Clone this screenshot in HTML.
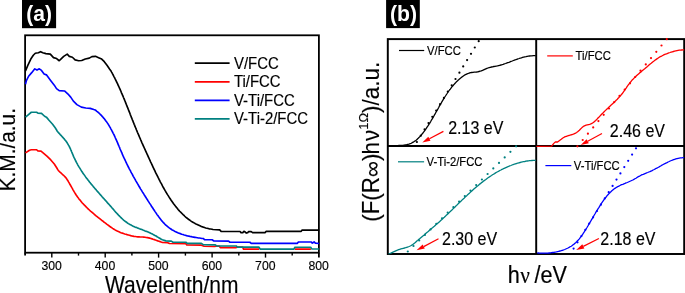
<!DOCTYPE html>
<html lang="en"><head><meta charset="utf-8"><title>UV-vis DRS spectra and band gap plots</title>
<style>html,body{margin:0;padding:0;background:#fff;}body{width:685px;height:293px;overflow:hidden;}svg{display:block;}text{font-family:"Liberation Sans",Arial,Helvetica,sans-serif;fill:#000;}</style>
</head><body>
<svg width="685" height="293" viewBox="0 0 685 293">
<rect x="0" y="0" width="685" height="293" fill="#fff"/>
<rect x="22" y="0" width="34.1" height="28.2" fill="#000"/>
<text transform="translate(39.1,20.9) scale(0.955,1)" font-size="22" text-anchor="middle" font-weight="bold" style="fill:#fff">(a)</text>
<rect x="25.1" y="35.3" width="293.79999999999995" height="217.39999999999998" fill="none" stroke="#000" stroke-width="1.8"/>
<g fill="none" stroke-width="1.65" stroke-linejoin="round" transform="translate(0.3,0.25)">
<path d="M25.2,152.6L29.2,150.0L31.0,149.5L36.3,149.5L37.6,150.7L40.7,150.9L43.4,153.1L46.9,156.2L50.5,159.7L54.0,163.7L56.7,168.0L57.3,169.1L58.0,170.1L58.8,171.0L59.7,171.9L60.6,172.7L61.5,173.5L62.4,174.4L63.3,175.2L64.2,176.0L65.0,176.9L65.8,177.8L66.5,178.8L67.1,179.8L67.8,180.8L68.4,181.9L69.0,182.9L69.6,184.0L70.2,185.0L70.8,186.1L71.4,187.2L72.0,188.2L72.6,189.3L73.2,190.3L73.8,191.4L74.4,192.4L75.1,193.5L75.7,194.5L76.4,195.5L77.1,196.5L77.8,197.4L78.5,198.4L79.3,199.4L80.1,200.3L80.8,201.2L81.6,202.2L82.4,203.1L83.3,204.0L84.1,204.9L84.9,205.7L85.8,206.6L86.7,207.5L87.5,208.3L88.4,209.2L89.3,210.0L90.2,210.8L91.2,211.6L92.1,212.4L93.0,213.2L93.9,214.0L94.9,214.8L95.8,215.6L96.8,216.4L97.7,217.1L98.7,217.9L99.7,218.7L100.6,219.4L101.6,220.2L102.6,220.9L103.5,221.7L104.5,222.4L105.5,223.1L106.4,223.9L107.4,224.6L108.4,225.3L109.3,226.0L110.3,226.7L111.3,227.4L112.3,228.1L113.3,228.7L114.3,229.4L115.4,230.0L116.4,230.5L117.5,231.1L118.6,231.6L119.7,232.1L120.8,232.5L122.0,232.9L123.2,233.3L124.4,233.7L125.6,234.0L126.8,234.4L128.0,234.7L129.2,235.0L130.4,235.4L131.5,235.7L132.7,235.9L133.9,236.2L135.1,236.3L136.3,236.5L137.5,236.6L138.7,236.6L139.9,236.7L141.1,236.7L142.3,236.8L143.5,236.9L144.7,237.0L145.9,237.2L147.1,237.4L148.3,237.6L149.4,237.9L150.6,238.2L151.8,238.6L152.9,239.0L154.1,239.4L155.2,239.8L156.4,240.2L157.5,240.6L158.7,241.0L159.8,241.4L160.9,241.8L162.1,242.2L167.4,242.4L169.2,243.3L185.6,243.5L186.5,244.7L201.1,244.9L203.8,246.0L214.0,246.2L216.0,245.9L219.0,245.9L220.0,247.3L235.9,247.3L237.0,246.9L242.4,246.9L243.2,248.9L258.8,248.9M294.4,248.9L310.6,248.9" stroke="#ff0000"/>
<path d="M25.2,116.9L27.9,114.6L31.0,112.0L36.3,112.0L37.6,112.9L41.2,113.1L44.3,116.0L46.1,116.9L48.7,120.0L52.3,124.0L54.9,127.5L56.3,129.7L56.8,130.8L57.6,131.7L58.4,132.6L59.2,133.5L60.0,134.4L60.9,135.3L61.7,136.2L62.5,137.1L63.3,138.0L64.1,138.9L64.9,139.9L65.6,140.8L66.3,141.8L67.0,142.8L67.6,143.8L68.2,144.9L68.8,145.9L69.3,147.0L69.9,148.1L70.4,149.3L70.9,150.4L71.3,151.5L71.8,152.7L72.3,153.8L72.8,155.0L73.2,156.1L73.7,157.2L74.3,158.3L74.8,159.4L75.3,160.5L75.9,161.6L76.4,162.7L77.0,163.7L77.6,164.8L78.2,165.8L78.8,166.9L79.5,167.9L80.1,168.9L80.7,169.9L81.4,171.0L82.1,172.0L82.7,173.0L83.4,173.9L84.1,174.9L84.8,175.9L85.5,176.9L86.3,177.9L87.0,178.8L87.7,179.8L88.5,180.7L89.2,181.7L90.0,182.6L90.7,183.6L91.5,184.5L92.3,185.4L93.0,186.4L93.8,187.3L94.6,188.2L95.4,189.1L96.2,190.1L97.0,191.0L97.8,191.9L98.6,192.8L99.4,193.7L100.2,194.6L101.0,195.5L101.8,196.5L102.6,197.4L103.5,198.3L104.3,199.2L105.1,200.1L105.9,201.0L106.7,201.9L107.5,202.9L108.4,203.8L109.2,204.7L110.0,205.6L110.8,206.5L111.6,207.5L112.4,208.4L113.2,209.3L114.0,210.3L114.8,211.2L115.6,212.1L116.5,213.0L117.3,213.9L118.1,214.8L119.0,215.7L119.8,216.5L120.7,217.4L121.5,218.2L122.4,219.0L123.3,219.8L124.3,220.6L125.2,221.3L126.2,222.0L127.1,222.7L128.1,223.4L129.2,224.0L130.2,224.6L131.3,225.1L132.4,225.7L133.5,226.2L134.6,226.7L135.7,227.1L136.9,227.6L138.0,228.0L139.2,228.5L140.3,228.9L141.5,229.3L142.6,229.8L143.8,230.2L144.9,230.7L146.0,231.1L147.2,231.6L148.3,232.1L149.4,232.6L150.4,233.1L151.5,233.6L152.6,234.1L153.7,234.7L154.7,235.3L155.8,235.8L156.8,236.5L157.9,237.1L158.9,237.7L159.9,238.3L161.0,239.0L162.1,239.5L165.6,240.6L171.0,240.9L172.7,242.0L185.6,242.0L186.9,243.1L201.1,243.1L202.9,244.4L215.0,244.6L216.3,245.7L235.9,245.7L237.2,246.8L258.5,246.8L259.8,248.8L293.6,248.8L294.6,247.0L310.4,247.0L311.4,248.7L318.9,248.7" stroke="#008080"/>
<path d="M25.2,84.0L26.1,80.4L28.3,76.0L31.4,72.4L34.5,68.6L36.7,69.8L39.0,68.6L41.2,70.2L43.8,73.8L46.1,74.6L50.5,80.4L54.0,84.9L56.2,88.4L58.9,90.4L64.2,90.7L67.7,93.8L70.4,96.9L73.1,100.9L76.6,104.4L81.1,106.9L85.5,107.8L89.9,108.1L93.5,109.3L94.7,109.6L95.7,110.3L96.6,111.1L97.6,111.9L98.5,112.7L99.4,113.5L100.2,114.3L101.1,115.2L101.9,116.1L102.7,117.0L103.4,117.9L104.2,118.8L104.9,119.7L105.6,120.7L106.3,121.6L107.0,122.6L107.7,123.6L108.3,124.6L108.9,125.6L109.5,126.7L110.1,127.7L110.7,128.8L111.3,129.8L111.8,130.9L112.4,132.0L112.9,133.1L113.5,134.1L114.0,135.2L114.5,136.3L115.0,137.5L115.5,138.6L116.0,139.7L116.5,140.8L117.0,141.9L117.5,143.1L117.9,144.2L118.4,145.3L118.9,146.5L119.4,147.6L119.8,148.7L120.3,149.9L120.8,151.0L121.3,152.1L121.8,153.2L122.2,154.4L122.7,155.5L123.2,156.6L123.7,157.7L124.3,158.8L124.8,159.9L125.3,161.0L125.8,162.1L126.3,163.2L126.9,164.3L127.4,165.4L127.9,166.5L128.5,167.5L129.0,168.6L129.6,169.7L130.2,170.7L130.7,171.8L131.3,172.9L131.9,173.9L132.4,175.0L133.0,176.1L133.6,177.1L134.2,178.2L134.8,179.2L135.4,180.3L136.0,181.3L136.6,182.3L137.2,183.4L137.8,184.4L138.4,185.5L139.0,186.5L139.6,187.5L140.2,188.6L140.9,189.6L141.5,190.6L142.1,191.6L142.8,192.7L143.4,193.7L144.0,194.7L144.7,195.7L145.3,196.8L146.0,197.8L146.6,198.8L147.3,199.8L147.9,200.9L148.6,201.9L149.2,202.9L149.9,203.9L150.6,204.9L151.2,206.0L151.9,207.0L152.6,208.0L153.2,209.0L153.9,210.0L154.6,211.1L155.3,212.1L156.0,213.1L156.6,214.1L157.3,215.1L158.1,216.1L158.8,217.1L159.5,218.0L160.3,219.0L161.0,219.9L161.8,220.9L162.6,221.8L163.4,222.6L164.2,223.5L165.0,224.3L165.9,225.2L166.8,225.9L167.7,226.7L168.6,227.4L169.6,228.1L170.6,228.8L171.6,229.5L172.6,230.1L173.7,230.6L174.8,231.2L175.9,231.7L177.0,232.2L178.1,232.7L179.2,233.1L180.4,233.6L181.5,234.0L182.7,234.3L183.9,234.7L185.0,235.0L186.2,235.4L187.4,235.7L188.6,235.9L189.8,236.2L191.0,236.4L192.2,236.7L193.4,236.9L194.6,237.1L195.8,237.3L197.0,237.5L198.2,237.7L199.4,237.8L200.5,238.0L201.7,238.2L202.9,238.2L204.2,239.4L211.8,239.5L213.6,240.7L228.3,240.9L229.6,242.0L249.6,242.0L250.9,243.1L296.9,243.1L298.3,241.7L311.1,241.7L312.0,242.9L313.8,241.7L315.1,242.9L318.9,243.3" stroke="#0000ff"/>
<path d="M25.2,70.7L27.4,65.4L30.5,58.8L33.0,55.0L35.0,53.0L38.1,52.5L40.3,51.4L42.5,52.5L45.6,53.4L50.0,53.9L53.2,57.4L56.3,58.3L58.9,60.5L61.1,58.3L63.4,56.1L66.9,53.9L69.0,56.1L72.1,57.0L74.8,59.6L78.3,60.5L81.4,60.3L85.0,58.8L89.0,57.9L91.6,56.4L95.2,56.1L98.3,57.4L101.4,58.8L104.0,61.4L106.7,65.0L109.4,69.0L110.7,70.7L111.3,71.8L111.9,72.8L112.4,73.9L113.0,75.0L113.5,76.1L114.1,77.1L114.6,78.2L115.2,79.3L115.7,80.4L116.2,81.5L116.8,82.6L117.3,83.7L117.8,84.8L118.3,85.9L118.8,87.0L119.3,88.1L119.8,89.2L120.3,90.3L120.8,91.5L121.2,92.6L121.7,93.7L122.2,94.8L122.7,95.9L123.1,97.0L123.6,98.2L124.1,99.3L124.5,100.4L125.0,101.5L125.4,102.7L125.9,103.8L126.3,104.9L126.8,106.1L127.2,107.2L127.7,108.3L128.1,109.4L128.6,110.6L129.0,111.7L129.5,112.8L129.9,114.0L130.3,115.1L130.8,116.2L131.2,117.4L131.7,118.5L132.1,119.6L132.6,120.7L133.0,121.9L133.5,123.0L133.9,124.1L134.4,125.2L134.8,126.4L135.3,127.5L135.8,128.6L136.2,129.7L136.7,130.9L137.1,132.0L137.6,133.1L138.1,134.2L138.6,135.3L139.0,136.4L139.5,137.5L140.0,138.6L140.5,139.8L141.0,140.9L141.4,142.0L141.9,143.1L142.4,144.2L142.9,145.3L143.4,146.4L143.9,147.5L144.4,148.6L144.9,149.7L145.4,150.8L145.9,151.9L146.4,153.0L146.9,154.1L147.4,155.2L147.9,156.3L148.4,157.4L148.9,158.5L149.4,159.6L149.9,160.7L150.4,161.8L151.0,163.0L151.5,164.1L152.0,165.2L152.5,166.3L153.0,167.4L153.5,168.5L154.1,169.6L154.6,170.7L155.1,171.8L155.6,172.9L156.2,174.0L156.7,175.0L157.3,176.1L157.8,177.2L158.4,178.3L158.9,179.4L159.5,180.5L160.0,181.6L160.6,182.7L161.2,183.7L161.8,184.8L162.3,185.9L162.9,187.0L163.5,188.0L164.1,189.1L164.7,190.2L165.3,191.2L166.0,192.3L166.6,193.3L167.2,194.4L167.9,195.4L168.5,196.4L169.2,197.5L169.9,198.5L170.5,199.5L171.2,200.5L171.9,201.5L172.6,202.5L173.3,203.5L174.1,204.5L174.8,205.4L175.5,206.4L176.3,207.3L177.1,208.3L177.8,209.2L178.6,210.1L179.4,211.0L180.3,211.8L181.1,212.7L181.9,213.5L182.8,214.4L183.7,215.2L184.5,216.0L185.4,216.8L186.3,217.5L187.3,218.3L188.2,219.0L189.2,219.7L190.1,220.4L191.1,221.1L192.1,221.7L193.1,222.3L194.2,222.9L195.2,223.5L196.3,224.1L197.4,224.6L198.5,225.1L199.6,225.6L200.7,226.1L201.9,226.5L203.0,226.9L204.2,227.3L205.4,227.7L206.7,228.0L207.9,228.3L209.1,228.6L210.4,228.8L211.7,229.0L212.7,229.3L219.4,229.6L220.8,231.1L239.8,231.3L240.7,232.4L242.5,232.4L243.6,231.0L245.2,232.0L246.0,232.8L247.4,232.4L248.3,231.3L250.9,231.3L252.3,232.4L264.7,232.4L265.9,231.1L300.9,231.1L301.8,229.8L318.9,229.8" stroke="#000"/>
</g>
<line x1="25.1" y1="252.7" x2="25.1" y2="255.6" stroke="#000" stroke-width="1.8"/>
<line x1="51.8" y1="252.7" x2="51.8" y2="257.59999999999997" stroke="#000" stroke-width="1.4"/>
<text transform="translate(51.6,269.6) scale(0.965,1)" font-size="12.7" text-anchor="middle" stroke="#000" stroke-width="0.15" stroke-linejoin="round">300</text>
<line x1="78.5" y1="252.7" x2="78.5" y2="255.6" stroke="#000" stroke-width="1.4"/>
<line x1="105.2" y1="252.7" x2="105.2" y2="257.59999999999997" stroke="#000" stroke-width="1.4"/>
<text transform="translate(105.0,269.6) scale(0.965,1)" font-size="12.7" text-anchor="middle" stroke="#000" stroke-width="0.15" stroke-linejoin="round">400</text>
<line x1="131.9" y1="252.7" x2="131.9" y2="255.6" stroke="#000" stroke-width="1.4"/>
<line x1="158.6" y1="252.7" x2="158.6" y2="257.59999999999997" stroke="#000" stroke-width="1.4"/>
<text transform="translate(158.4,269.6) scale(0.965,1)" font-size="12.7" text-anchor="middle" stroke="#000" stroke-width="0.15" stroke-linejoin="round">500</text>
<line x1="185.4" y1="252.7" x2="185.4" y2="255.6" stroke="#000" stroke-width="1.4"/>
<line x1="212.1" y1="252.7" x2="212.1" y2="257.59999999999997" stroke="#000" stroke-width="1.4"/>
<text transform="translate(211.9,269.6) scale(0.965,1)" font-size="12.7" text-anchor="middle" stroke="#000" stroke-width="0.15" stroke-linejoin="round">600</text>
<line x1="238.8" y1="252.7" x2="238.8" y2="255.6" stroke="#000" stroke-width="1.4"/>
<line x1="265.5" y1="252.7" x2="265.5" y2="257.59999999999997" stroke="#000" stroke-width="1.4"/>
<text transform="translate(265.3,269.6) scale(0.965,1)" font-size="12.7" text-anchor="middle" stroke="#000" stroke-width="0.15" stroke-linejoin="round">700</text>
<line x1="292.2" y1="252.7" x2="292.2" y2="255.6" stroke="#000" stroke-width="1.4"/>
<line x1="318.9" y1="252.7" x2="318.9" y2="257.59999999999997" stroke="#000" stroke-width="1.8"/>
<text transform="translate(318.7,269.6) scale(0.965,1)" font-size="12.7" text-anchor="middle" stroke="#000" stroke-width="0.15" stroke-linejoin="round">800</text>
<text transform="translate(171.8,293.3) scale(0.914,1)" font-size="23" text-anchor="middle" stroke="#000" stroke-width="0.15" stroke-linejoin="round">Wavelenth/nm</text>
<text transform="translate(15.1,191.4) rotate(-90) scale(0.948,1)" font-size="22" stroke="#000" stroke-width="0.15" stroke-linejoin="round">K.M./a.u.</text>
<line x1="194.8" y1="63.2" x2="229.6" y2="63.2" stroke="#000" stroke-width="1.7"/>
<text transform="translate(234,68.5) scale(0.91,1)" font-size="16.4" stroke="#000" stroke-width="0.18" stroke-linejoin="round">V/FCC</text>
<line x1="194.8" y1="81.9" x2="229.6" y2="81.9" stroke="#ff0000" stroke-width="1.7"/>
<text transform="translate(234,87.2) scale(0.91,1)" font-size="16.4" stroke="#000" stroke-width="0.18" stroke-linejoin="round">Ti/FCC</text>
<line x1="194.8" y1="100.4" x2="229.6" y2="100.4" stroke="#0000ff" stroke-width="1.7"/>
<text transform="translate(234,105.7) scale(0.91,1)" font-size="16.4" stroke="#000" stroke-width="0.18" stroke-linejoin="round">V-Ti/FCC</text>
<line x1="194.8" y1="118.8" x2="229.6" y2="118.8" stroke="#008080" stroke-width="1.7"/>
<text transform="translate(234,124.1) scale(0.91,1)" font-size="16.4" stroke="#000" stroke-width="0.18" stroke-linejoin="round">V-Ti-2/FCC</text>
<rect x="386.1" y="0" width="33.7" height="28.1" fill="#000"/>
<text transform="translate(403.5,20.9) scale(0.965,1)" font-size="22" text-anchor="middle" font-weight="bold" style="fill:#fff">(b)</text>
<g fill="none" stroke="#000" stroke-width="1.95">
<rect x="387.8" y="39.1" width="296.40000000000003" height="214.9"/>
<line x1="536.2" y1="39.1" x2="536.2" y2="254.0"/>
<line x1="387.8" y1="146.0" x2="684.2" y2="146.0"/>
</g>
<g fill="none" stroke-width="1.3" stroke-linejoin="round" transform="translate(0.2,0.3)">
<path d="M388.0,145.7L389.1,145.6L390.2,145.5L391.4,145.5L392.5,145.4L393.7,145.4L395.0,145.3L396.2,145.3L397.5,145.3L398.8,145.2L400.1,145.2L401.3,145.1L402.6,145.0L403.9,144.8L405.1,144.6L406.4,144.4L407.6,144.1L408.7,143.8L409.9,143.4L411.0,143.0L412.0,142.4L413.0,141.9L414.0,141.2L415.0,140.6L415.9,139.9L416.8,139.1L417.7,138.3L418.5,137.5L419.4,136.6L420.2,135.7L421.0,134.8L421.7,133.9L422.5,133.0L423.2,132.0L424.0,131.1L424.7,130.1L425.4,129.1L426.1,128.1L426.7,127.1L427.4,126.1L428.1,125.1L428.7,124.1L429.4,123.0L430.0,122.0L430.6,121.0L431.2,119.9L431.9,118.9L432.5,117.8L433.1,116.8L433.7,115.7L434.3,114.6L434.9,113.6L435.5,112.5L436.1,111.4L436.7,110.4L437.3,109.3L437.9,108.3L438.5,107.2L439.0,106.1L439.6,105.1L440.3,104.0L440.9,103.0L441.5,101.9L442.1,100.9L442.7,99.8L443.3,98.8L444.0,97.7L444.6,96.7L445.3,95.7L445.9,94.7L446.6,93.7L447.2,92.7L447.9,91.7L448.6,90.7L449.3,89.7L450.1,88.8L450.8,87.8L451.5,86.9L452.3,85.9L453.1,85.0L453.9,84.1L454.7,83.2L455.5,82.3L456.3,81.5L457.2,80.6L458.1,79.8L459.0,78.9L459.9,78.1L460.8,77.4L461.8,76.6L462.8,75.9L463.8,75.2L464.8,74.6L465.9,74.0L466.9,73.5L468.1,73.1L469.2,72.7L470.4,72.4L471.5,72.2L472.8,72.1L474.0,71.9L475.2,71.8L476.4,71.7L477.6,71.5L478.8,71.2L480.0,70.9L481.1,70.6L482.3,70.1L483.4,69.6L484.5,69.1L485.6,68.6L486.7,68.1L487.8,67.7L488.9,67.3L490.1,67.0L491.3,66.7L492.4,66.5L493.6,66.2L494.8,66.0L496.0,65.8L497.2,65.6L498.4,65.3L499.5,65.0L500.7,64.7L501.8,64.4L503.0,64.0L504.1,63.6L505.3,63.2L506.4,62.8L507.5,62.4L508.7,62.0L509.8,61.6L510.9,61.1L512.1,60.7L513.2,60.2L514.3,59.8L515.5,59.4L516.6,59.0L517.7,58.6L518.9,58.2L520.0,57.8L521.2,57.5L522.3,57.1L523.5,56.8L524.6,56.5L525.8,56.3L527.0,56.0L528.2,55.8L529.4,55.7L530.6,55.6L531.8,55.5L533.0,55.4L534.3,55.4L535.5,55.4" stroke="#000"/>
<path d="M536.2,146.0L551.5,145.8L553.4,143.3L555.2,141.6L557.4,141.7L561.0,139.0L562.0,138.2L563.0,137.5L564.0,136.9L565.1,136.4L566.2,136.0L567.4,135.6L568.6,135.2L569.7,134.9L570.9,134.5L572.1,134.2L573.2,133.8L574.3,133.3L575.4,132.8L576.4,132.2L577.4,131.5L578.3,130.7L579.2,129.9L580.1,129.0L581.0,128.1L581.8,127.3L582.8,126.5L583.7,125.8L584.8,125.3L585.9,124.9L587.1,124.6L588.3,124.3L589.5,124.0L590.6,123.6L591.7,123.1L592.7,122.5L593.7,121.8L594.6,121.0L595.5,120.2L596.3,119.3L597.2,118.4L598.0,117.5L598.9,116.7L599.7,115.8L600.5,114.9L601.4,114.0L602.2,113.2L603.1,112.3L603.9,111.5L604.8,110.6L605.6,109.8L606.5,108.9L607.4,108.1L608.2,107.3L609.1,106.4L610.0,105.6L610.9,104.8L611.8,103.9L612.7,103.1L613.6,102.3L614.5,101.5L615.3,100.6L616.2,99.8L617.1,98.9L617.9,98.0L618.7,97.2L619.5,96.3L620.3,95.3L621.1,94.4L621.9,93.5L622.6,92.5L623.3,91.5L624.0,90.5L624.7,89.5L625.4,88.5L626.1,87.5L626.7,86.5L627.4,85.5L628.1,84.6L628.9,83.6L629.6,82.6L630.4,81.7L631.1,80.8L631.9,79.8L632.8,79.0L633.6,78.1L634.5,77.2L635.3,76.4L636.2,75.5L637.1,74.7L638.0,73.9L638.9,73.1L639.8,72.3L640.8,71.6L641.7,70.8L642.6,70.0L643.6,69.2L644.5,68.5L645.4,67.7L646.3,66.9L647.3,66.1L648.2,65.3L649.1,64.5L650.0,63.7L651.0,63.0L651.9,62.2L652.8,61.4L653.8,60.7L654.7,60.0L655.7,59.3L656.7,58.6L657.7,57.9L658.7,57.2L659.7,56.6L660.8,56.0L661.9,55.5L663.0,54.9L664.1,54.4L665.2,53.9L666.3,53.5L667.5,53.0L668.6,52.6L669.8,52.2L670.9,51.8L672.1,51.5L673.2,51.2L674.4,50.9L675.6,50.6L676.8,50.3L677.9,50.1L679.1,49.9L680.3,49.8L681.5,49.7L682.8,49.6L684.0,49.6" stroke="#ff0000"/>
<path d="M388.3,253.6L389.5,253.2L390.6,252.8L391.7,252.3L392.8,251.8L393.9,251.3L395.0,250.8L396.1,250.3L397.2,249.9L398.4,249.4L399.5,249.0L400.7,248.6L401.9,248.3L403.1,248.0L404.3,247.7L405.4,247.4L406.6,247.0L407.8,246.6L408.9,246.2L410.0,245.7L411.0,245.2L412.0,244.6L412.9,243.9L413.9,243.1L414.8,242.4L415.7,241.6L416.6,240.8L417.5,240.1L418.4,239.3L419.4,238.5L420.3,237.7L421.2,236.9L422.1,236.1L423.0,235.4L424.0,234.6L424.9,233.8L425.8,233.0L426.7,232.2L427.7,231.4L428.6,230.6L429.5,229.8L430.4,229.0L431.3,228.2L432.3,227.4L433.2,226.6L434.1,225.9L435.0,225.1L435.9,224.3L436.9,223.5L437.8,222.7L438.7,221.9L439.6,221.1L440.5,220.3L441.4,219.5L442.3,218.6L443.2,217.8L444.1,217.0L444.9,216.2L445.8,215.3L446.7,214.5L447.6,213.7L448.5,212.8L449.3,212.0L450.2,211.1L451.1,210.3L452.0,209.4L452.8,208.6L453.7,207.7L454.6,206.9L455.4,206.0L456.3,205.2L457.2,204.3L458.0,203.5L458.9,202.6L459.8,201.8L460.7,200.9L461.5,200.1L462.4,199.2L463.3,198.4L464.2,197.6L465.0,196.7L465.9,195.9L466.8,195.1L467.7,194.2L468.6,193.4L469.5,192.6L470.4,191.7L471.3,190.9L472.2,190.1L473.1,189.3L474.0,188.5L474.9,187.7L475.8,186.9L476.7,186.1L477.7,185.4L478.6,184.6L479.5,183.8L480.5,183.1L481.4,182.3L482.4,181.6L483.3,180.8L484.3,180.1L485.3,179.4L486.3,178.6L487.2,177.9L488.2,177.2L489.2,176.6L490.2,175.9L491.3,175.2L492.3,174.5L493.3,173.9L494.3,173.3L495.4,172.6L496.4,172.0L497.5,171.4L498.6,170.8L499.6,170.2L500.7,169.7L501.8,169.1L502.9,168.6L504.0,168.0L505.1,167.5L506.2,167.0L507.3,166.5L508.4,166.1L509.5,165.6L510.7,165.2L511.8,164.7L512.9,164.3L514.1,163.9L515.2,163.5L516.4,163.2L517.5,162.8L518.7,162.5L519.9,162.2L521.1,161.9L522.2,161.6L523.4,161.4L524.6,161.2L525.8,160.9L527.0,160.7L528.2,160.6L529.4,160.4L530.6,160.3L531.8,160.2L533.1,160.1L534.3,160.0L535.5,160.0" stroke="#008080"/>
<path d="M537.0,252.6L538.1,252.7L539.3,252.8L540.4,252.8L541.6,252.9L542.8,252.9L544.0,252.9L545.2,252.9L546.4,252.8L547.6,252.8L548.9,252.7L550.1,252.6L551.3,252.4L552.6,252.2L553.8,252.1L555.0,251.8L556.2,251.6L557.4,251.3L558.6,251.0L559.8,250.7L561.0,250.4L562.2,250.0L563.4,249.6L564.5,249.2L565.6,248.7L566.7,248.2L567.8,247.7L568.9,247.1L569.9,246.5L571.0,245.9L572.0,245.2L572.9,244.5L573.9,243.8L574.8,243.0L575.7,242.2L576.5,241.4L577.3,240.5L578.1,239.7L578.9,238.8L579.7,237.8L580.4,236.9L581.2,235.9L581.9,234.9L582.6,233.9L583.2,232.9L583.9,231.9L584.5,230.9L585.2,229.8L585.8,228.8L586.5,227.7L587.1,226.7L587.7,225.7L588.3,224.6L588.9,223.6L589.5,222.5L590.1,221.5L590.8,220.4L591.4,219.4L592.0,218.4L592.6,217.3L593.2,216.3L593.8,215.2L594.4,214.2L595.0,213.2L595.6,212.1L596.2,211.1L596.9,210.1L597.5,209.0L598.1,208.0L598.8,207.0L599.4,206.0L600.1,204.9L600.7,203.9L601.4,202.9L602.1,201.9L602.8,200.9L603.5,199.9L604.2,198.9L604.9,197.9L605.7,197.0L606.4,196.0L607.2,195.1L608.0,194.2L608.8,193.3L609.7,192.4L610.5,191.6L611.4,190.8L612.3,190.0L613.2,189.2L614.1,188.5L615.1,187.8L616.1,187.2L617.1,186.6L618.2,186.0L619.2,185.5L620.3,184.9L621.4,184.4L622.6,184.0L623.7,183.5L624.8,183.1L625.9,182.6L627.1,182.2L628.2,181.7L629.3,181.2L630.4,180.7L631.5,180.2L632.6,179.7L633.7,179.1L634.7,178.5L635.8,177.9L636.8,177.2L637.8,176.6L638.8,176.0L639.9,175.5L640.9,174.9L642.0,174.4L643.1,174.0L644.2,173.5L645.3,173.1L646.4,172.6L647.5,172.2L648.6,171.7L649.7,171.3L650.8,170.8L651.9,170.3L652.9,169.7L654.0,169.2L655.1,168.6L656.1,168.0L657.2,167.5L658.3,166.9L659.3,166.3L660.4,165.7L661.4,165.1L662.5,164.5L663.6,163.9L664.6,163.4L665.7,162.8L666.8,162.3L667.9,161.7L669.0,161.2L670.0,160.7L671.2,160.2L672.3,159.8L673.4,159.4L674.5,159.0L675.6,158.6L676.8,158.3L678.0,158.0L679.1,157.8L680.3,157.6L681.5,157.5L682.8,157.4L684.0,157.4" stroke="#0000ff"/>
</g>
<circle cx="478.7" cy="41.2" r="1.1" fill="#000"/>
<circle cx="474.8" cy="47.5" r="1.1" fill="#000"/>
<circle cx="471.0" cy="53.8" r="1.1" fill="#000"/>
<circle cx="467.1" cy="60.1" r="1.1" fill="#000"/>
<circle cx="463.2" cy="66.4" r="1.1" fill="#000"/>
<circle cx="459.4" cy="72.7" r="1.1" fill="#000"/>
<circle cx="455.5" cy="79.0" r="1.1" fill="#000"/>
<circle cx="451.7" cy="85.3" r="1.1" fill="#000"/>
<circle cx="447.8" cy="91.6" r="1.1" fill="#000"/>
<circle cx="443.9" cy="97.9" r="1.1" fill="#000"/>
<circle cx="440.1" cy="104.2" r="1.1" fill="#000"/>
<circle cx="436.2" cy="110.5" r="1.1" fill="#000"/>
<circle cx="432.3" cy="116.8" r="1.1" fill="#000"/>
<circle cx="428.5" cy="123.1" r="1.1" fill="#000"/>
<circle cx="424.6" cy="129.4" r="1.1" fill="#000"/>
<circle cx="420.8" cy="135.7" r="1.1" fill="#000"/>
<circle cx="416.9" cy="142.0" r="1.1" fill="#000"/>
<circle cx="666.8" cy="39.2" r="1.1" fill="#ff0000"/>
<circle cx="661.5" cy="45.5" r="1.1" fill="#ff0000"/>
<circle cx="656.3" cy="51.8" r="1.1" fill="#ff0000"/>
<circle cx="651.0" cy="58.1" r="1.1" fill="#ff0000"/>
<circle cx="645.8" cy="64.4" r="1.1" fill="#ff0000"/>
<circle cx="640.5" cy="70.7" r="1.1" fill="#ff0000"/>
<circle cx="635.2" cy="77.0" r="1.1" fill="#ff0000"/>
<circle cx="630.0" cy="83.3" r="1.1" fill="#ff0000"/>
<circle cx="624.7" cy="89.6" r="1.1" fill="#ff0000"/>
<circle cx="619.5" cy="95.9" r="1.1" fill="#ff0000"/>
<circle cx="614.2" cy="102.2" r="1.1" fill="#ff0000"/>
<circle cx="609.0" cy="108.5" r="1.1" fill="#ff0000"/>
<circle cx="603.7" cy="114.8" r="1.1" fill="#ff0000"/>
<circle cx="598.4" cy="121.1" r="1.1" fill="#ff0000"/>
<circle cx="593.2" cy="127.4" r="1.1" fill="#ff0000"/>
<circle cx="587.9" cy="133.7" r="1.1" fill="#ff0000"/>
<circle cx="582.7" cy="140.0" r="1.1" fill="#ff0000"/>
<circle cx="577.4" cy="146.3" r="1.1" fill="#ff0000"/>
<circle cx="516.1" cy="146.3" r="1.1" fill="#008080"/>
<circle cx="510.4" cy="151.8" r="1.1" fill="#008080"/>
<circle cx="504.7" cy="157.4" r="1.1" fill="#008080"/>
<circle cx="499.0" cy="162.9" r="1.1" fill="#008080"/>
<circle cx="493.3" cy="168.4" r="1.1" fill="#008080"/>
<circle cx="487.6" cy="174.0" r="1.1" fill="#008080"/>
<circle cx="481.9" cy="179.5" r="1.1" fill="#008080"/>
<circle cx="476.2" cy="185.1" r="1.1" fill="#008080"/>
<circle cx="470.5" cy="190.6" r="1.1" fill="#008080"/>
<circle cx="464.8" cy="196.1" r="1.1" fill="#008080"/>
<circle cx="459.1" cy="201.7" r="1.1" fill="#008080"/>
<circle cx="453.4" cy="207.2" r="1.1" fill="#008080"/>
<circle cx="447.7" cy="212.7" r="1.1" fill="#008080"/>
<circle cx="442.0" cy="218.3" r="1.1" fill="#008080"/>
<circle cx="436.3" cy="223.8" r="1.1" fill="#008080"/>
<circle cx="430.6" cy="229.4" r="1.1" fill="#008080"/>
<circle cx="424.9" cy="234.9" r="1.1" fill="#008080"/>
<circle cx="419.2" cy="240.4" r="1.1" fill="#008080"/>
<circle cx="413.5" cy="246.0" r="1.1" fill="#008080"/>
<circle cx="407.8" cy="251.5" r="1.1" fill="#008080"/>
<circle cx="636.0" cy="148.3" r="1.1" fill="#0000ff"/>
<circle cx="632.1" cy="154.6" r="1.1" fill="#0000ff"/>
<circle cx="628.2" cy="160.8" r="1.1" fill="#0000ff"/>
<circle cx="624.3" cy="167.1" r="1.1" fill="#0000ff"/>
<circle cx="620.4" cy="173.4" r="1.1" fill="#0000ff"/>
<circle cx="616.5" cy="179.6" r="1.1" fill="#0000ff"/>
<circle cx="612.6" cy="185.9" r="1.1" fill="#0000ff"/>
<circle cx="608.7" cy="192.2" r="1.1" fill="#0000ff"/>
<circle cx="604.8" cy="198.4" r="1.1" fill="#0000ff"/>
<circle cx="600.9" cy="204.7" r="1.1" fill="#0000ff"/>
<circle cx="597.0" cy="211.0" r="1.1" fill="#0000ff"/>
<circle cx="593.1" cy="217.3" r="1.1" fill="#0000ff"/>
<circle cx="589.2" cy="223.5" r="1.1" fill="#0000ff"/>
<circle cx="585.3" cy="229.8" r="1.1" fill="#0000ff"/>
<circle cx="581.4" cy="236.1" r="1.1" fill="#0000ff"/>
<circle cx="577.5" cy="242.3" r="1.1" fill="#0000ff"/>
<circle cx="573.6" cy="248.6" r="1.1" fill="#0000ff"/>
<line x1="399" y1="50.5" x2="424.2" y2="50.5" stroke="#000" stroke-width="1.2"/>
<text transform="translate(427,54.9) scale(0.88,1)" font-size="12.8" stroke="#000" stroke-width="0.2" stroke-linejoin="round">V/FCC</text>
<line x1="547.2" y1="55.9" x2="572.8" y2="55.9" stroke="#ff0000" stroke-width="1.2"/>
<text transform="translate(575.6,60.3) scale(0.88,1)" font-size="12.8" stroke="#000" stroke-width="0.2" stroke-linejoin="round">Ti/FCC</text>
<line x1="398" y1="161.8" x2="424.1" y2="161.8" stroke="#008080" stroke-width="1.2"/>
<text transform="translate(426.6,166.2) scale(0.88,1)" font-size="12.8" stroke="#000" stroke-width="0.2" stroke-linejoin="round">V-Ti-2/FCC</text>
<line x1="545.4" y1="165.6" x2="571.3" y2="165.6" stroke="#0000ff" stroke-width="1.2"/>
<text transform="translate(573.8,170.0) scale(0.88,1)" font-size="12.8" stroke="#000" stroke-width="0.2" stroke-linejoin="round">V-Ti/FCC</text>
<line x1="443.4" y1="131.4" x2="429.4" y2="138.7" stroke="#ff0000" stroke-width="1.2"/>
<polygon points="422.3,142.4 428.3,136.7 430.5,140.7" fill="#ff0000"/>
<line x1="602.0" y1="133.5" x2="587.7" y2="141.2" stroke="#ff0000" stroke-width="1.2"/>
<polygon points="580.7,145.0 586.6,139.2 588.8,143.2" fill="#ff0000"/>
<line x1="438.5" y1="238.8" x2="423.7" y2="246.6" stroke="#ff0000" stroke-width="1.2"/>
<polygon points="416.6,250.3 422.6,244.5 424.8,248.6" fill="#ff0000"/>
<line x1="598.9" y1="238.5" x2="583.3" y2="246.4" stroke="#ff0000" stroke-width="1.2"/>
<polygon points="576.2,250.0 582.3,244.3 584.4,248.4" fill="#ff0000"/>
<text transform="translate(448.2,133.5) scale(0.91,1)" font-size="17.6" stroke="#000" stroke-width="0.18" stroke-linejoin="round">2.13 eV</text>
<text transform="translate(609.8,137) scale(0.91,1)" font-size="17.6" stroke="#000" stroke-width="0.18" stroke-linejoin="round">2.46 eV</text>
<text transform="translate(442,244.8) scale(0.91,1)" font-size="17.6" stroke="#000" stroke-width="0.18" stroke-linejoin="round">2.30 eV</text>
<text transform="translate(600.3,244.5) scale(0.91,1)" font-size="17.6" stroke="#000" stroke-width="0.18" stroke-linejoin="round">2.18 eV</text>
<text transform="translate(507.7,283) scale(0.925,1)" font-size="23.4" stroke="#000" stroke-width="0.2" stroke-linejoin="round">h<tspan font-family="Liberation Serif,serif" font-size="23" dx="0.5">ν</tspan><tspan dx="-1.5"> /eV</tspan></text>
<text transform="translate(379,221.8) rotate(-90) scale(0.975,1)" font-size="23" stroke="#000" stroke-width="0.15" stroke-linejoin="round">(F(R<tspan dy="1.2">∞</tspan><tspan dy="-1.2">)</tspan><tspan dx="-1">h</tspan><tspan dx="1.2">ν</tspan><tspan font-size="13.2" dy="-10.8">1Ω</tspan><tspan dy="10.8">)/a.u.</tspan></text>
</svg>
</body></html>
